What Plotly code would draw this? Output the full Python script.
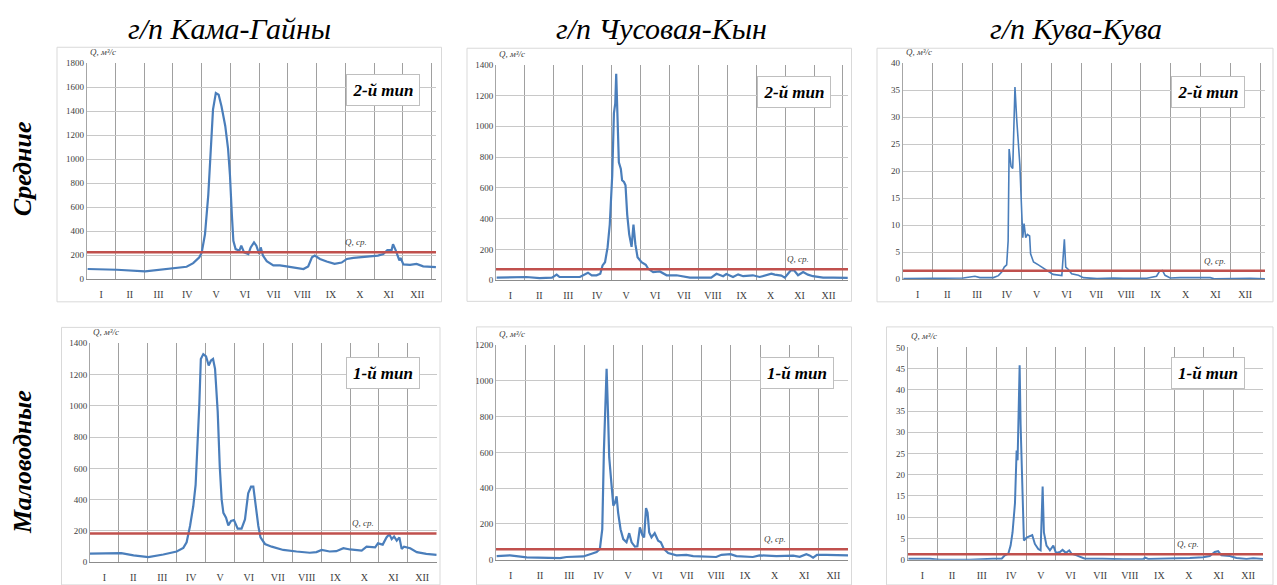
import plotly.graph_objects as go

W, H = 1277, 585

# --- data -------------------------------------------------------------------
stations = ["г/п Кама-Гайны", "г/п Чусовая-Кын", "г/п Кува-Кува"]
row_names = ["Средние", "Маловодные"]
type_labels = [["2-й тип", "2-й тип", "2-й тип"], ["1-й тип", "1-й тип", "1-й тип"]]
months = ["I", "II", "III", "IV", "V", "VI", "VII", "VIII", "IX", "X", "XI", "XII"]

# Кама-Гайны, средний по водности год
kama_avg_day = [1, 32, 62, 78, 92, 106, 113, 119.5, 122, 125.5, 129, 132, 134, 137, 140, 143, 147, 150,
                152, 154, 155.6, 158, 162, 164, 167, 171.5, 174, 177.5, 180, 183, 184.6, 187, 191, 198,
                205, 212, 223, 230, 235, 239, 242, 247.5, 254.6, 263, 270.5, 276, 283, 290, 300.5, 309,
                314.7, 319, 323.5, 325, 328, 331.7, 333, 336, 343, 350, 357, 366, 370.5]
kama_avg_q = [85, 79, 66, 79, 93, 104, 134, 183, 221, 374, 702, 1085, 1412, 1549, 1535, 1440, 1276, 1085,
              866, 538, 320, 251, 238, 279, 224, 210, 265, 306, 279, 210, 265, 197, 150, 115,
              115, 107, 93, 85, 107, 183, 197, 169, 148, 128, 139, 169, 178, 183, 189, 197,
              210, 243, 243, 292, 238, 156, 178, 123, 120, 128, 107, 107, 101]

# Чусовая-Кын, средний год
chus_avg_day = [0.7, 15, 32, 46, 59, 64, 67, 88.5, 94, 97, 101, 106, 110, 112.4, 115, 117.7, 120, 122.6,
                124.4, 125.8, 126.8, 128, 129.6, 131.7, 133, 135, 136.6, 138.4, 140.5, 143, 145, 147,
                149.3, 153.5, 158, 160.5, 165.8, 172.8, 180, 190.4, 195.7, 204.5, 215, 227, 232.6,
                239.6, 243, 250, 255.4, 260.7, 271, 278, 290.5, 294, 301, 304.6, 308, 311, 314.4,
                318.6, 324, 329, 334.4, 345, 355.5, 366, 371]
chus_avg_q = [17, 21, 21, 13, 17, 36, 21, 21, 42, 49, 32, 32, 42, 96, 117, 213, 362, 681,
              1085, 1149, 1340, 1106, 766, 723, 649, 638, 617, 426, 298, 217, 362, 234,
              149, 117, 100, 74, 53, 57, 32, 32, 26, 17, 17, 17, 42,
              26, 40, 21, 38, 26, 32, 21, 42, 36, 30, 17, 42, 64, 64,
              32, 53, 36, 26, 17, 17, 15, 15]

# Кува-Кува, средний год
kuva_avg_day = [0.7, 35, 62, 74, 79, 93, 98, 101.4, 104, 106.5, 108, 109, 111, 112.7, 114, 115, 116.8,
                118.5, 120, 122, 123, 124.3, 126, 127.7, 130, 131, 134, 139, 142.4, 144.7, 149, 154,
                163, 164.6, 165.6, 167, 169.7, 173, 180, 185, 199, 216, 226, 250, 260, 263, 266,
                268.7, 274, 284, 304.5, 315, 320, 342, 356, 371]
kuva_avg_q = [0.12, 0.18, 0.24, 0.55, 0.3, 0.3, 0.67, 1.34, 2.25, 2.67, 7.1, 24.1, 20.9, 20.5, 28.3, 35.6, 29.6,
              24.1, 21.2, 12.0, 7.7, 10.3, 7.7, 8.3, 8.0, 4.7, 3.2, 2.67, 2.25, 2.06, 1.5, 0.9,
              0.67, 4.7, 7.4, 2.25, 1.8, 1.03, 0.73, 0.3, 0.12, 0.24, 0.18, 0.18, 0.55, 1.46, 1.64,
              0.73, 0.24, 0.3, 0.24, 0.3, 0.06, 0.12, 0.18, 0.06]

# Кама-Гайны, маловодный год
kama_low_day = [0, 14, 33, 46, 61.6, 77.4, 91.5, 98.5, 102, 105.6, 109, 111.5, 113.3, 115.4, 117, 119.6,
                122.5, 125.3, 127.7, 129.9, 132, 134.8, 137, 139, 140.8, 143.6, 146, 148.9, 152, 155.9,
                160, 163.6, 167, 170, 172.4, 175, 177.7, 180, 184.7, 191.8, 204, 218, 232, 239, 244.6,
                253, 260, 267.5, 274.5, 286.8, 292, 301, 304, 309, 313, 316, 318.5, 321, 323.8, 326.6,
                329, 331.5, 338, 345, 355, 366]
kama_low_q = [56, 59, 59, 44, 33, 50, 69, 92, 128, 232, 358, 494, 713, 1006, 1299, 1330,
              1316, 1257, 1289, 1299, 1236, 964, 609, 400, 316, 285, 236, 264, 270, 215,
              215, 274, 441, 483, 483, 358, 232, 159, 117, 100, 79, 69, 61, 65, 79,
              69, 71, 90, 82, 75, 100, 96, 121, 113, 159, 180, 148, 165, 138, 159,
              86, 100, 90, 65, 54, 48]

# Чусовая-Кын, маловодный год
chus_low_day = [0.7, 14.5, 32, 49, 66.5, 73.4, 90.7, 99.4, 104.6, 108, 110.5, 112.2, 113.6, 115, 116.4,
                117.7, 120, 122, 123.6, 125.4, 127, 129.5, 132.3, 135.7, 138.5, 141, 144.4, 147, 149.6,
                152.4, 154, 156, 157.6, 159.3, 161.7, 165, 168.6, 171.4, 174.5, 179, 187.7, 198, 205,
                222, 229, 234.4, 243.8, 250, 267, 274, 291.6, 309, 315.8, 322.7, 326, 329.7, 333.8,
                343.5, 354, 366]
chus_low_q = [20, 24, 13, 13, 9, 15, 18, 33, 42, 60, 170, 610, 885, 1068, 830,
              573, 427, 302, 317, 354, 262, 170, 115, 97, 148, 97, 73, 75, 180,
              134, 125, 289, 262, 152, 125, 148, 106, 97, 60, 37, 24, 27, 20,
              15, 15, 27, 31, 20, 15, 24, 20, 22, 16, 31, 24, 11, 27,
              27, 24, 24]

# Кува-Кува, маловодный год
kuva_low_day = [0.7, 23, 33, 64, 88, 96.8, 100, 103.6, 106, 108, 110.5, 112.2, 113.2, 114.3, 115.3, 116.3,
                117.7, 119.7, 122.5, 125.9, 128.3, 131, 134.5, 136.9, 139, 140.3, 143, 146.5, 150, 152.7,
                156.8, 159.5, 163, 166.4, 168.8, 174, 182.5, 201, 222, 242.6, 244.6, 247.7, 270, 290.6,
                304.3, 311.2, 316.3, 319.8, 323.2, 331.8, 338.6, 349, 355.8, 366]
kuva_low_q = [0.23, 0.23, 0.0, 0.0, 0.23, 0.23, 1.0, 1.4, 3.3, 6.4, 13.3, 25.7, 23.4, 33.4, 45.8, 31.9,
              18.0, 4.5, 5.2, 5.6, 5.8, 3.7, 2.5, 2.2, 17.2, 6.4, 3.3, 2.2, 3.3, 1.6,
              1.8, 2.3, 1.6, 2.2, 1.4, 1.0, 0.23, 0.23, 0.08, 0.15, 0.46, 0.15, 0.23, 0.39,
              0.54, 0.85, 1.8, 2.0, 1.0, 0.85, 0.39, 0.15, 0.31, 0.15]

# Среднегодовые расходы (линия «Q, ср.»)
q_mean = [[225, 72, 1.55], [184, 58, 1.3]]

# Шкалы оси Q
y_max = [[1800, 1400, 40], [1400, 1200, 50]]
y_step = [[200, 200, 5], [200, 200, 5]]

series = [[(kama_avg_day, kama_avg_q), (chus_avg_day, chus_avg_q), (kuva_avg_day, kuva_avg_q)],
          [(kama_low_day, kama_low_q), (chus_low_day, chus_low_q), (kuva_low_day, kuva_low_q)]]

# --- layout geometry (pixels) ----------------------------------------------
plot_px = [[(86.7, 436, 59, 279), (496, 848, 60.7, 280), (902.7, 1265, 59.3, 279)],
           [(90, 436.7, 344, 567), (496, 848, 346, 564.3), (907.7, 1263, 348.3, 564.3)]]
frame_px = [[(57, 441.5, 43, 302), (467, 851.5, 44, 301.5), (877, 1273, 44, 302)],
            [(61.5, 440, 328, 590), (476.5, 851.5, 327.5, 590), (886.5, 1273, 327.5, 590)]]
x_end = [[370.6, 371.3, 371.1], [366, 366, 366]]
box_center = [[(382.5, 86.7), (793.8, 88.3), (1207.8, 88.3)],
              [(382.5, 374.3), (797.2, 374.3), (1208.3, 374.3)]]
qmean_label_day = [[286, 318.6, 320], [288.6, 290, 289]]
line_w = [[2.2, 2.2, 1.6], [2.2, 2.2, 2.0]]

MONTH = 30.5
SERIF = "Liberation Serif, Times New Roman, DejaVu Serif, serif"
BLUE = "#4a7ebb"
RED = "#c0504d"


def fx(p):
    return p / W


def fy(p):
    return 1 - p / H


fig = go.Figure()
shapes, annotations = [], []

for r in range(2):
    for c in range(3):
        k = r * 3 + c + 1
        xa = "x" if k == 1 else f"x{k}"
        ya = "y" if k == 1 else f"y{k}"
        xl = "xaxis" if k == 1 else f"xaxis{k}"
        yl = "yaxis" if k == 1 else f"yaxis{k}"
        x0, x1, y0, y1 = plot_px[r][c]
        days, q = series[r][c]
        xmax = x_end[r][c]

        # chart-area frame
        fx0, fx1, fy0, fy1 = frame_px[r][c]
        shapes.append(dict(type="rect", xref="paper", yref="paper", layer="below",
                           x0=fx(fx0), x1=fx(fx1), y0=fy(fy1), y1=fy(fy0),
                           line=dict(color="#d9d9d9", width=1), fillcolor="white"))

        # hydrograph
        fig.add_trace(go.Scatter(x=days, y=q, mode="lines", xaxis=xa, yaxis=ya,
                                 line=dict(color=BLUE, width=line_w[r][c]),
                                 showlegend=False, hoverinfo="skip"))
        # mean discharge line
        qm = q_mean[r][c]
        fig.add_trace(go.Scatter(x=[0, xmax], y=[qm, qm], mode="lines", xaxis=xa, yaxis=ya,
                                 line=dict(color=RED, width=2.5),
                                 showlegend=False, hoverinfo="skip"))

        fig.layout[xl] = dict(
            domain=[fx(x0), fx(x1)], anchor=ya, range=[0, xmax],
            tickmode="array", tickvals=[MONTH * (i + 0.5) for i in range(12)], ticktext=months,
            ticks="", showgrid=False, zeroline=False, ticklabelstandoff=6,
            minor=dict(tick0=0, dtick=MONTH, showgrid=True, gridcolor="#a0a0a0", gridwidth=1),
            showline=True, linecolor="#8c8c8c", linewidth=1,
            tickfont=dict(family=SERIF, size=10, color="#404040"), fixedrange=True)
        fig.layout[yl] = dict(
            domain=[fy(y1), fy(y0)], anchor=xa, range=[0, y_max[r][c]],
            tickmode="linear", tick0=0, dtick=y_step[r][c],
            showgrid=True, gridcolor="#c8c8c8", gridwidth=1, zeroline=False,
            showline=True, linecolor="#a6a6a6", linewidth=1, ticks="",
            tickfont=dict(family=SERIF, size=9, color="#404040"), fixedrange=True)

        # axis caption
        annotations.append(dict(text="<i>Q, м³/с</i>", xref="paper", yref="paper",
                                x=fx(x0 + 1), y=fy(y0 - 4), xanchor="left", yanchor="bottom",
                                showarrow=False, font=dict(family=SERIF, size=9, color="#404040")))
        # mean label
        annotations.append(dict(text="<i>Q, ср.</i>", xref=xa, yref=ya,
                                x=qmean_label_day[r][c], y=qm, yshift=10,
                                xanchor="center", yanchor="middle", showarrow=False,
                                font=dict(family=SERIF, size=9, color="#404040")))
        # hydrograph type box
        bx, by = box_center[r][c]
        annotations.append(dict(text=f"<b><i>{type_labels[r][c]}</i></b>", xref="paper", yref="paper",
                                x=fx(bx), y=fy(by), xanchor="center", yanchor="middle",
                                width=68, height=26, borderpad=2, bgcolor="white",
                                bordercolor="#bfbfbf", borderwidth=1, showarrow=False,
                                font=dict(family=SERIF, size=17, color="black")))

# column titles
for name, cx in zip(stations, [229, 661.7, 1075.8]):
    annotations.append(dict(text=f"<i>{name}</i>", xref="paper", yref="paper",
                            x=fx(cx), y=fy(24), xanchor="center", yanchor="middle",
                            showarrow=False, font=dict(family=SERIF, size=30, color="black")))

# row titles
for name, cy in zip(row_names, [167, 465]):
    annotations.append(dict(text=f"<b><i>{name}</i></b>", xref="paper", yref="paper",
                            x=fx(22), y=fy(cy), xanchor="center", yanchor="middle",
                            textangle=-90, showarrow=False,
                            font=dict(family=SERIF, size=26, color="black")))

fig.update_layout(width=W, height=H, margin=dict(l=0, r=0, t=0, b=0),
                  paper_bgcolor="white", plot_bgcolor="rgba(0,0,0,0)",
                  shapes=shapes, annotations=annotations)

fig.write_html("out.html", config={"displayModeBar": False})
